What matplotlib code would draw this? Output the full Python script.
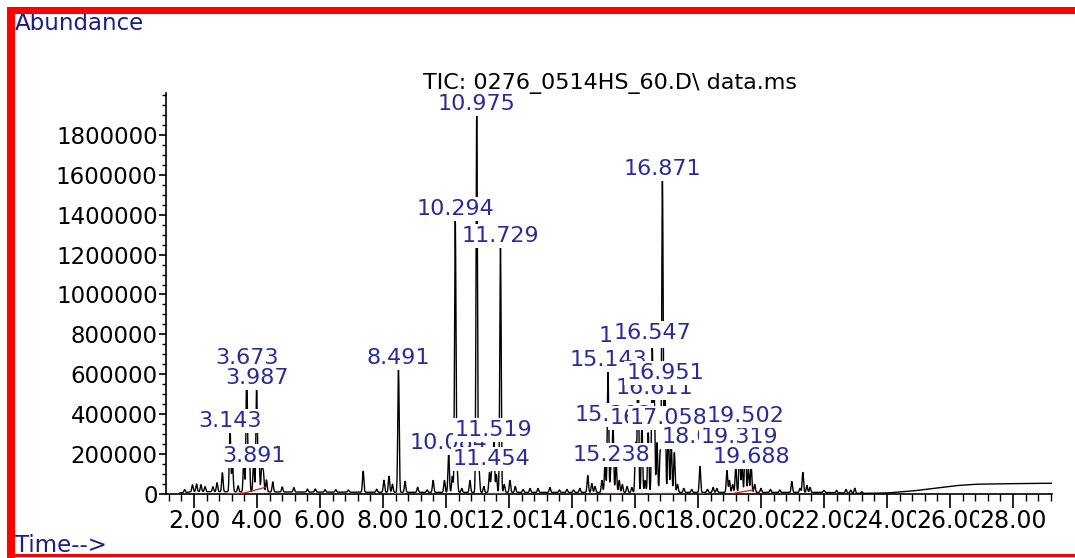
import numpy as np
import matplotlib
matplotlib.use("Agg")
import matplotlib.pyplot as plt
from matplotlib.patches import Rectangle
from matplotlib.ticker import MultipleLocator, FixedLocator

plt.rcParams["font.family"] = ["DejaVu Sans"]

# ---- peak table: retention time (min) and apex abundance ----
peak_times = [
    1.70, 1.95, 2.08, 2.22, 2.35, 2.60, 2.73, 2.90, 3.143, 3.22, 3.40, 3.58,
    3.673, 3.75, 3.891, 3.987, 4.06, 4.15, 4.20, 4.30, 4.50, 4.80, 5.17, 5.60,
    5.85, 6.16, 6.50, 6.90, 7.37, 7.80, 8.03, 8.19, 8.30, 8.491, 8.70, 9.10,
    9.40, 9.59, 9.95, 10.084, 10.20, 10.294, 10.35, 10.50, 10.76, 10.975,
    11.05, 11.20, 11.38, 11.454, 11.519, 11.60, 11.729, 11.85, 12.03, 12.20,
    12.45, 12.67, 12.92, 13.30, 13.60, 13.84, 14.05, 14.25, 14.50, 14.63,
    14.73, 14.95, 15.05, 15.143, 15.238, 15.302, 15.40, 15.50, 15.60, 15.75,
    15.90, 16.02, 16.095, 16.22, 16.32, 16.420, 16.547, 16.611, 16.70, 16.80,
    16.871, 16.951, 17.058, 17.15, 17.25, 17.35, 17.55, 17.80, 18.063, 18.30,
    18.48, 18.60, 18.92, 19.00, 19.10, 19.20, 19.319, 19.40, 19.502, 19.60,
    19.688, 19.80, 20.00, 20.30, 20.60, 20.98, 21.24, 21.33, 21.46, 21.56,
    22.00, 22.40, 22.70, 22.85, 22.98, 23.20,
]
peak_heights = [
    15e3, 35e3, 38e3, 35e3, 25e3, 25e3, 45e3, 95e3, 320e3, 150e3, 30e3, 160e3,
    620e3, 200e3, 150e3, 530e3, 170e3, 130e3, 100e3, 60e3, 50e3, 25e3, 22e3, 15e3,
    15e3, 12e3, 12e3, 10e3, 105e3, 15e3, 60e3, 80e3, 40e3, 622e3, 55e3, 25e3,
    12e3, 60e3, 60e3, 200e3, 80e3, 1365e3, 120e3, 20e3, 60e3, 1890e3,
    110e3, 30e3, 100e3, 120e3, 265e3, 90e3, 1238e3, 40e3, 60e3, 30e3,
    15e3, 20e3, 20e3, 25e3, 12e3, 15e3, 12e3, 20e3, 85e3, 45e3,
    30e3, 60e3, 150e3, 612e3, 135e3, 345e3, 150e3, 60e3, 40e3, 30e3,
    25e3, 250e3, 720e3, 350e3, 60e3, 300e3, 740e3, 480e3, 250e3, 200e3,
    1574e3, 540e3, 330e3, 250e3, 200e3, 40e3, 20e3, 15e3, 130e3, 15e3,
    25e3, 20e3, 110e3, 60e3, 40e3, 130e3, 235e3, 130e3, 340e3, 120e3,
    135e3, 40e3, 20e3, 15e3, 12e3, 55e3, 20e3, 100e3, 35e3, 25e3,
    10e3, 12e3, 18e3, 15e3, 25e3, 8e3,
]

# drifting baseline (column bleed at the end of the run)
baseline_times = [1.55, 2.0, 5.0, 10.0, 15.0, 20.0, 22.0, 23.2, 24.0, 24.8, 25.5, 26.2,
                  26.8, 27.5, 29.24]
baseline_levels = [5e3, 12e3, 10e3, 8e3, 8e3, 8e3, 8e3, 3e3, 5e3, 15e3, 28e3, 42e3,
                   49e3, 51e3, 54e3]

# integration baselines (start, end, start level, end level)
integ_start = [3.05, 3.60, 8.35, 10.00, 11.30, 15.00, 16.00, 16.45, 18.00, 19.10]
integ_end = [3.60, 4.30, 8.65, 10.40, 11.85, 15.50, 16.30, 17.30, 18.15, 19.75]
integ_lvl0 = [0, 5e3, 3e3, 2e3, 3e3, 3e3, 3e3, 3e3, 3e3, 3e3]
integ_lvl1 = [5e3, 35e3, 3e3, 2e3, 3e3, 3e3, 3e3, 3e3, 3e3, 20e3]

# labelled peaks and the abundance at which each label sits
label_times = [3.143, 3.673, 3.891, 3.987, 8.491, 10.084, 10.294, 10.975, 11.454,
               11.519, 11.729, 15.143, 15.238, 15.302, 16.095, 16.420, 16.547,
               16.611, 16.871, 16.951, 17.058, 18.063, 19.319, 19.502, 19.688]
label_levels = [366e3, 682e3, 190e3, 582e3, 682e3, 256e3, 1429e3, 1955e3, 175e3,
                321e3, 1294e3, 672e3, 196e3, 396e3, 792e3, 381e3, 807e3,
                531e3, 1630e3, 607e3, 381e3, 286e3, 286e3, 391e3, 186e3]

y_ticks = list(range(0, 1800001, 200000))
x_ticks = [2, 4, 6, 8, 10, 12, 14, 16, 18, 20, 22, 24, 26, 28]

title_text = "TIC: 0276_0514HS_60.D\\ data.ms"

# ---- build the total ion chromatogram ----
t = np.arange(1.55, 29.24, 0.004)
signal = np.interp(t, baseline_times, baseline_levels)
sigma = 0.022
for pt, ph in zip(peak_times, peak_heights):
    signal = signal + ph * np.exp(-0.5 * ((t - pt) / sigma) ** 2)

W, H = 1075, 558
fig = plt.figure(figsize=(W / 100, H / 100), dpi=100)
fig.patch.set_facecolor("white")

ax = fig.add_axes([166 / W, 1 - 494 / H, (1052 - 166) / W, (494 - 93) / H])
ax.set_xlim(1.11, 29.24)
ax.set_ylim(0, 2.01e6)
for s in ("top", "right"):
    ax.spines[s].set_visible(False)
for s in ("left", "bottom"):
    ax.spines[s].set_linewidth(1.2)

ax.plot(t, signal, color="black", lw=1.0, zorder=2)
for a, b, l0, l1 in zip(integ_start, integ_end, integ_lvl0, integ_lvl1):
    ax.plot([a, b], [l0, l1], color="#cc2222", lw=0.9, zorder=3)

label_blue = "#2a2a9c"
for i, (lt, ly) in enumerate(zip(label_times, label_levels)):
    ax.text(lt, ly, f"{lt:.3f}", ha="center", va="center", fontsize=16,
            color=label_blue, zorder=10 + i, clip_on=False,
            bbox=dict(boxstyle="square,pad=0.08", facecolor="white", edgecolor="none"))

ax.yaxis.set_major_locator(FixedLocator(y_ticks))
ax.yaxis.set_minor_locator(MultipleLocator(50000))
ax.set_yticklabels([str(v) for v in y_ticks])
ax.xaxis.set_major_locator(FixedLocator(x_ticks))
ax.xaxis.set_minor_locator(MultipleLocator(0.4))
ax.set_xticklabels([f"{v:.2f}" for v in x_ticks])

ax.tick_params(axis="x", which="major", length=10, width=1.2, direction="out",
               labelsize=17, pad=1)
ax.tick_params(axis="x", which="minor", length=5, width=1.0, direction="out")
ax.tick_params(axis="y", which="major", length=5, width=1.2, direction="out",
               labelsize=16.5, pad=1)
ax.tick_params(axis="y", which="minor", length=3, width=1.0, direction="out")
for lab in ax.get_xticklabels():
    lab.set_bbox(dict(boxstyle="square,pad=0.02", facecolor="white", edgecolor="none"))

fig.text(610 / W, 1 - 84 / H, title_text, ha="center", va="center",
         fontsize=16, color="black")
fig.text(15 / W, 1 - 23 / H, "Abundance", ha="left", va="center",
         fontsize=16.5, color="#1c1c8a")
fig.text(15 / W, 1 - 545 / H, "Time-->", ha="left", va="center",
         fontsize=16.5, color="#1c1c8a")

# red frame
red = "#ff0000"
fig.patches.append(Rectangle((7 / W, 0), 8 / W, 1 - 7 / H, transform=fig.transFigure,
                             facecolor=red, edgecolor="none", zorder=20))
fig.patches.append(Rectangle((7 / W, 1 - 14 / H), 1 - 7 / W, 7 / H, transform=fig.transFigure,
                             facecolor=red, edgecolor="none", zorder=20))
fig.patches.append(Rectangle((7 / W, 1 - 557 / H), 1 - 7 / W, 3 / H, transform=fig.transFigure,
                             facecolor=red, edgecolor="none", zorder=20))

fig.savefig("out.png", dpi=100, facecolor="white")
